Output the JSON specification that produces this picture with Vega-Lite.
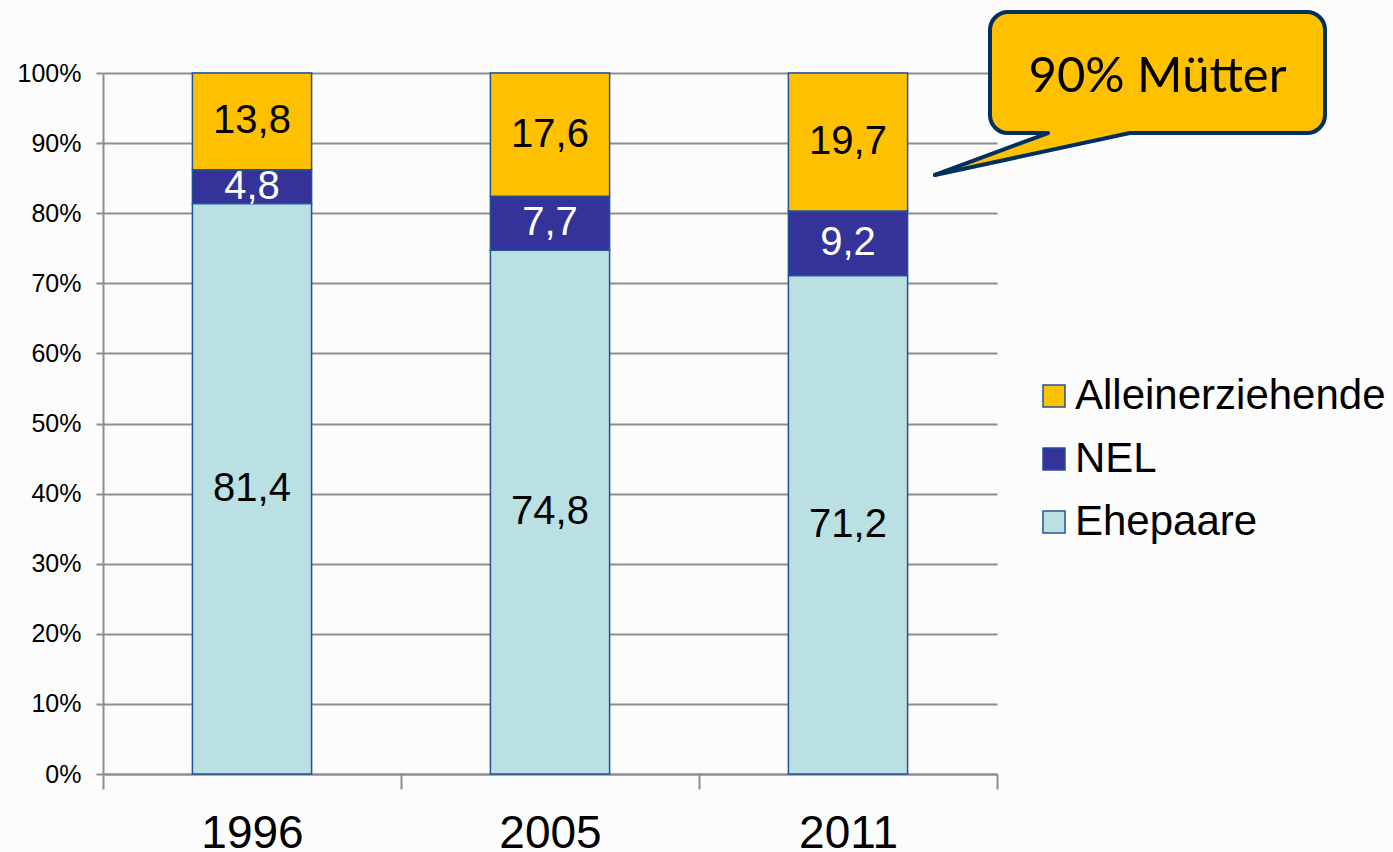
{
  "$schema": "https://vega.github.io/schema/vega-lite/v6.json",
  "width": 894,
  "height": 701,
  "autosize": {"type": "none"},
  "padding": {"left": 103, "top": 73, "right": 396, "bottom": 78},
  "background": "#fcfcfc",
  "config": {
    "view": {"stroke": null},
    "locale": {"number": {"decimal": ",", "thousands": ".", "grouping": [3], "currency": ["", " €"]}},
    "font": "Liberation Sans"
  },
  "layer": [
    {
      "data": {
        "values": [
          {"year": "1996", "s": "Ehepaare", "v": 81.4, "o": 1},
          {"year": "1996", "s": "NEL", "v": 4.8, "o": 2},
          {"year": "1996", "s": "Alleinerziehende", "v": 13.8, "o": 3},
          {"year": "2005", "s": "Ehepaare", "v": 74.8, "o": 1},
          {"year": "2005", "s": "NEL", "v": 7.7, "o": 2},
          {"year": "2005", "s": "Alleinerziehende", "v": 17.6, "o": 3},
          {"year": "2011", "s": "Ehepaare", "v": 71.2, "o": 1},
          {"year": "2011", "s": "NEL", "v": 9.2, "o": 2},
          {"year": "2011", "s": "Alleinerziehende", "v": 19.7, "o": 3}
        ]
      },
      "encoding": {
        "x": {
          "field": "year", "type": "nominal",
          "scale": {"paddingInner": 0, "paddingOuter": 0},
          "axis": {
            "title": null, "labelAngle": 0, "labelFontSize": 46, "labelColor": "#000000",
            "labelFont": "Liberation Sans",
            "tickBand": "extent", "tickSize": 15, "tickColor": "#8e8e8e", "tickWidth": 2,
            "domainColor": "#8e8e8e", "domainWidth": 2, "labelPadding": 22, "grid": false
          }
        },
        "y": {
          "field": "v", "type": "quantitative", "stack": "normalize",
          "axis": {
            "title": null, "format": ".0%", "values": [0, 0.1, 0.2, 0.3, 0.4, 0.5, 0.6, 0.7, 0.8, 0.9, 1],
            "labelFontSize": 25, "labelColor": "#000000", "labelFont": "Liberation Sans",
            "tickSize": 7, "tickColor": "#8e8e8e", "tickWidth": 2, "labelPadding": 15,
            "domainColor": "#8e8e8e", "domainWidth": 2,
            "grid": true, "gridColor": "#8e8e8e", "gridWidth": 1.8
          }
        },
        "order": {"field": "o", "type": "quantitative"}
      },
      "layer": [
        {
          "mark": {"type": "bar", "width": {"band": 0.4}, "stroke": "#1f5296", "strokeWidth": 1.5},
          "encoding": {
            "color": {
              "field": "s", "type": "nominal",
              "scale": {"domain": ["Alleinerziehende", "NEL", "Ehepaare"], "range": ["#ffc000", "#333399", "#bae0e3"]},
              "legend": {
                "title": null, "orient": "none", "legendX": 930, "legendY": 302,
                "padding": 0, "symbolType": "square", "symbolSize": 484,
                "symbolStrokeColor": "#1f5296", "symbolStrokeWidth": 1.5,
                "labelFontSize": 42, "labelFont": "Liberation Sans", "labelColor": "#000000",
                "labelOffset": 0, "rowPadding": 21, "labelLimit": 400
              }
            }
          }
        },
        {
          "mark": {"type": "text", "fontSize": 40, "font": "Liberation Sans", "baseline": "middle", "align": "center"},
          "encoding": {
            "y": {"field": "v", "type": "quantitative", "stack": "normalize", "bandPosition": 0.5},
            "text": {"field": "v", "type": "quantitative", "format": ".1f"},
            "color": {"condition": {"test": "datum.s === 'NEL'", "value": "#ffffff"}, "value": "#000000"}
          }
        }
      ]
    },
    {
      "layer": [
        {
          "data": {"values": [{"x1": 2.9765, "x2": 4.1007, "y1": 1.087, "y2": 0.9144}]},
          "mark": {"type": "rect", "fill": "#ffc000", "stroke": "#00305e", "strokeWidth": 4, "cornerRadius": 18},
          "encoding": {
            "x": {"field": "x1", "type": "quantitative", "scale": {"domain": [0, 3], "nice": false}, "axis": null},
            "x2": {"field": "x2"},
            "y": {"field": "y1", "type": "quantitative", "scale": {"domain": [0, 1], "nice": false}, "axis": null},
            "y2": {"field": "y2"}
          }
        },
        {
          "data": {"values": [
            {"x": 2.792, "ya": 0.8545, "yb": 0.8545},
            {"x": 3.171, "ya": 0.9144, "yb": 0.8892},
            {"x": 3.18, "ya": 0.925, "yb": 0.89},
            {"x": 3.44, "ya": 0.925, "yb": 0.9135},
            {"x": 3.446, "ya": 0.9144, "yb": 0.9144}
          ]},
          "mark": {"type": "area", "fill": "#ffc000", "opacity": 1},
          "encoding": {
            "x": {"field": "x", "type": "quantitative", "scale": {"domain": [0, 3], "nice": false}, "axis": null},
            "y": {"field": "ya", "type": "quantitative", "scale": {"domain": [0, 1], "nice": false}, "axis": null},
            "y2": {"field": "yb"}
          }
        },
        {
          "data": {"values": [
            {"seg": "a", "x": 2.792, "y": 0.8545},
            {"seg": "a", "x": 3.171, "y": 0.9144},
            {"seg": "b", "x": 2.792, "y": 0.8545},
            {"seg": "b", "x": 3.446, "y": 0.9144}
          ]},
          "mark": {"type": "line", "stroke": "#00305e", "strokeWidth": 4, "strokeCap": "round", "strokeJoin": "round"},
          "encoding": {
            "x": {"field": "x", "type": "quantitative", "scale": {"domain": [0, 3], "nice": false}, "axis": null},
            "y": {"field": "y", "type": "quantitative", "scale": {"domain": [0, 1], "nice": false}, "axis": null},
            "detail": {"field": "seg"}
          }
        },
        {
          "data": {"values": [{"x": 3.5386, "y": 0.9729, "t": "90% Mütter"}]},
          "mark": {"type": "text", "font": "Lato", "fontSize": 49, "align": "center", "baseline": "alphabetic", "color": "#000000"},
          "encoding": {
            "x": {"field": "x", "type": "quantitative", "scale": {"domain": [0, 3], "nice": false}, "axis": null},
            "y": {"field": "y", "type": "quantitative", "scale": {"domain": [0, 1], "nice": false}, "axis": null},
            "text": {"field": "t"}
          }
        }
      ]
    }
  ],
  "resolve": {"scale": {"x": "independent", "y": "independent", "color": "independent"}}
}
